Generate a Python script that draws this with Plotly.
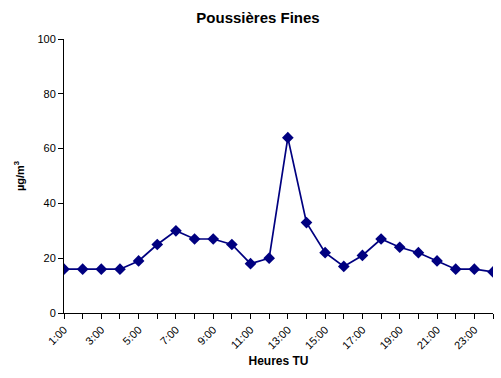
import plotly.graph_objects as go

# Hourly fine-dust concentrations (µg/m³), 1:00 to 24:00 UT
hours = list(range(1, 25))
pm_values = [16, 16, 16, 16, 19, 25, 30, 27, 27, 25, 18, 20,
             64, 33, 22, 17, 21, 27, 24, 22, 19, 16, 16, 15]

# labels on odd hours only, tick marks on every hour
label_hours = [h for h in hours if h % 2 == 1]
label_text = [f"{h}:00" for h in label_hours]

font_family = "Liberation Sans, Arial, sans-serif"

fig = go.Figure()
fig.add_trace(go.Scatter(
    x=hours,
    y=pm_values,
    mode="lines+markers",
    line=dict(color="#000080", width=1.7),
    marker=dict(symbol="diamond", size=9, color="#000080"),
    showlegend=False,
))

fig.update_layout(
    width=501,
    height=378,
    margin=dict(l=64, r=8, t=39, b=65),
    paper_bgcolor="white",
    plot_bgcolor="white",
    font=dict(family=font_family, size=11, color="black"),
    title=dict(
        text="<b>Poussières Fines</b>",
        x=258 / 501,
        xanchor="center",
        y=1 - 18 / 378,
        yanchor="middle",
        font=dict(family=font_family, size=15, color="black"),
    ),
)

fig.update_xaxes(
    range=[1, 24],
    tickmode="array",
    tickvals=label_hours,
    ticktext=label_text,
    tickangle=-45,
    ticks="outside",
    ticklen=5,
    tickcolor="black",
    minor=dict(tick0=1, dtick=1, ticks="outside", ticklen=5,
               tickcolor="black", showgrid=False),
    showline=True,
    linecolor="black",
    linewidth=1,
    showgrid=False,
    zeroline=False,
    title=dict(text="<b>Heures TU</b>", font=dict(size=12), standoff=6),
)

fig.update_yaxes(
    range=[0, 100],
    tickmode="linear",
    tick0=0,
    dtick=20,
    ticks="outside",
    ticklen=5,
    tickcolor="black",
    showline=True,
    linecolor="black",
    linewidth=1,
    showgrid=False,
    zeroline=False,
    title=dict(text="<b>µg/m<sup>3</sup></b>", font=dict(size=11), standoff=10),
)

fig.write_html("out.html")
